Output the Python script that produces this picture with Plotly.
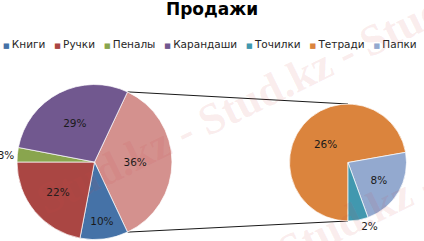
import math
import plotly.graph_objects as go

W, H = 424, 241

# ---- data ----
title_text = "Продажи"
categories = ["Книги", "Ручки", "Пеналы", "Карандаши", "Точилки", "Тетради", "Папки"]
values = [10, 22, 3, 29, 2, 26, 8]
colors = ["#4572A7", "#AA4643", "#89A54E", "#71588F", "#4198AF", "#DB843D", "#93A9CF"]
other_label = "Другой"
other_color = "#D4918E"
main_cats = ["Книги", "Ручки", "Пеналы", "Карандаши"]
second_cats = ["Тетради", "Папки", "Точилки"]
watermark = "Stud.kz - Stud.kz - Stud.kz"

val = dict(zip(categories, values))
col = dict(zip(categories, colors))

other_value = sum(val[c] for c in second_cats)
left_labels = [other_label] + main_cats
left_values = [other_value] + [val[c] for c in main_cats]
left_colors = [other_color] + [col[c] for c in main_cats]
left_pos = ["inside", "inside", "inside", "outside", "inside"]

right_labels = second_cats
right_values = [val[c] for c in second_cats]
right_colors = [col[c] for c in second_cats]
right_pos = ["inside", "inside", "outside"]

# ---- layout geometry (pixels) ----
L_cx, L_cy, L_r = 94.5, 162.0, 77.5
R_cx, R_cy, R_r = 348.0, 162.5, 58.5

def dom(cx, cy, r):
    return dict(x=[(cx - r) / W, (cx + r) / W], y=[1 - (cy + r) / H, 1 - (cy - r) / H])

other_frac = other_value / sum(left_values)
rot_left = 90 - other_frac * 360 / 2

font_family = "DejaVu Sans"
txt_color = "#1a1a1a"

fig = go.Figure()
fig.add_trace(go.Pie(
    labels=left_labels, values=left_values, sort=False, direction="clockwise",
    rotation=rot_left, domain=dom(L_cx, L_cy, L_r),
    marker=dict(colors=left_colors, line=dict(color="white", width=0.7)),
    texttemplate="%{value}%", textposition=left_pos,
    insidetextorientation="horizontal",
    textfont=dict(family=font_family, size=10.5, color=txt_color),
    showlegend=False, hoverinfo="label+value",
))
fig.add_trace(go.Pie(
    labels=right_labels, values=right_values, sort=False, direction="clockwise",
    rotation=180, domain=dom(R_cx, R_cy, R_r),
    marker=dict(colors=right_colors, line=dict(color="white", width=0.7)),
    texttemplate="%{value}%", textposition=right_pos,
    insidetextorientation="horizontal",
    textfont=dict(family=font_family, size=10.5, color=txt_color),
    showlegend=False, hoverinfo="label+value",
))

# connector lines between the "other" slice and the secondary pie
a = math.radians(other_frac * 360 / 2)
p_top = (L_cx + L_r * math.cos(a), L_cy - L_r * math.sin(a))
p_bot = (L_cx + L_r * math.cos(a), L_cy + L_r * math.sin(a))
q_top = (R_cx, R_cy - R_r)
q_bot = (R_cx, R_cy + R_r)
shapes = []
for p, q in [(p_top, q_top), (p_bot, q_bot)]:
    shapes.append(dict(type="line", xref="paper", yref="paper",
                       x0=p[0] / W, y0=1 - p[1] / H, x1=q[0] / W, y1=1 - q[1] / H,
                       line=dict(color="#1a1a1a", width=1), layer="below"))

# legend as a single line of text
sp = "\u00a0"
parts = []
for i, c in enumerate(categories):
    lead = "" if i == 0 else sp * 4
    parts.append(f"<span style='color:{col[c]};font-size:7px'>{lead}■{sp}</span>{c}")
legend_text = "".join(parts)

annotations = [dict(text=legend_text, xref="paper", yref="paper",
                    x=1.0 / W, y=1 - 44 / H, xanchor="left", yanchor="middle",
                    showarrow=False,
                    font=dict(family=font_family, size=10.5, color="#262626"))]

# faint watermark
for (wx, wy) in [(265, 92), (345, 222)]:
    annotations.append(dict(text=f"<b>{watermark}</b>", xref="paper", yref="paper",
                            x=wx / W, y=1 - wy / H, xanchor="center", yanchor="middle",
                            showarrow=False, textangle=-26,
                            font=dict(family="Liberation Serif", size=44,
                                      color="rgba(205,70,70,0.10)")))

fig.update_layout(
    width=W, height=H,
    margin=dict(l=0, r=0, t=0, b=0, autoexpand=False),
    paper_bgcolor="white", plot_bgcolor="white",
    title=dict(text=f"<b>{title_text}</b>", x=0.5, xanchor="center",
               y=1 - 9.5 / H, yanchor="middle", yref="container",
               font=dict(family=font_family, size=17, color="#000000")),
    shapes=shapes,
    annotations=annotations,
)

fig.write_html("out.html")
